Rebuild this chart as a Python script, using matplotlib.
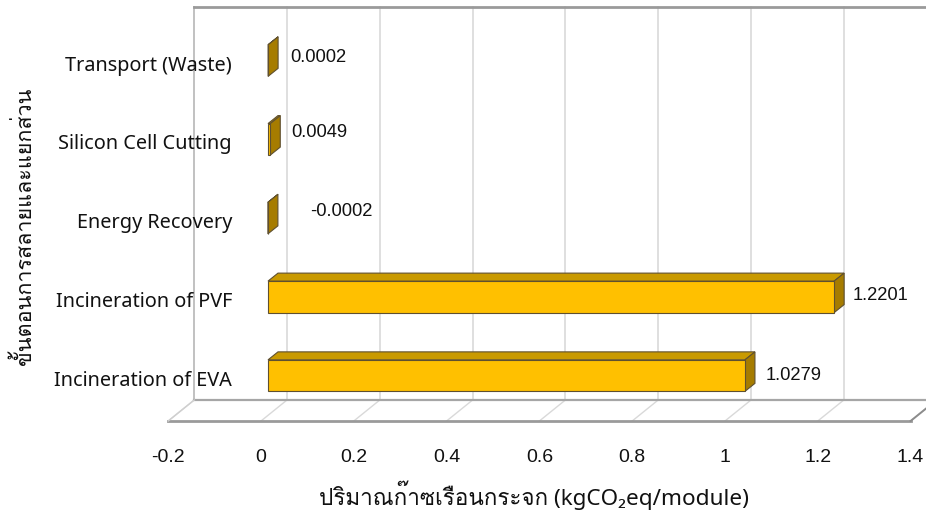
import matplotlib
matplotlib.use("Agg")
import matplotlib.pyplot as plt
from matplotlib import font_manager
from matplotlib.ft2font import FT2Font
from matplotlib.patches import Polygon
from matplotlib.lines import Line2D
from matplotlib.transforms import IdentityTransform

# data
categories = ["Incineration of EVA", "Incineration of PVF", "Energy Recovery",
              "Silicon Cell Cutting", "Transport (Waste)"]
values = [1.0279, 1.2201, -0.0002, 0.0049, 0.0002]
value_labels = ["1.0279", "1.2201", "-0.0002", "0.0049", "0.0002"]
xticks = [-0.2, 0, 0.2, 0.4, 0.6, 0.8, 1.0, 1.2, 1.4]
xtick_labels = ["-0.2", "0", "0.2", "0.4", "0.6", "0.8", "1", "1.2", "1.4"]
xlabel = "ปริมาณก๊าซเรือนกระจก (kgCO₂eq/module)"
ylabel = "ขั้นตอนการสลายและแยกส่วน"


def find_thai_font():
    for f in font_manager.fontManager.ttflist:
        try:
            if 0x0E01 in FT2Font(f.fname).get_charmap():
                return f.name
        except Exception:
            pass
    return None


thai = find_thai_font()
latin_fams = ["Noto Sans"] + ([thai] if thai else []) + ["DejaVu Sans"]
num_fams = ["Liberation Sans", "DejaVu Sans"]

fig = plt.figure(figsize=(9.26, 5.12), dpi=100)
# axes = plane of the bar fronts
ax = fig.add_axes([175.2 / 926, 97 / 512, 742.4 / 926, 393 / 512])
ax.set_xlim(-0.2, 1.4)
ax.set_ylim(-0.5, 4.49)
ax.axis("off")

FRONT = (-7, -6)   # floor front edge offset (px)
BACK = (19, 15)    # back wall offset (px)
DEPTH = (10, 8)    # bar depth (px)
ID = IdentityTransform()


def P(x, y, off=(0, 0)):
    px, py = ax.transData.transform((x, y))
    return (px + off[0], py + off[1])


def line(p0, p1, color, lw, z=1):
    ax.add_line(Line2D([p0[0], p1[0]], [p0[1], p1[1]], color=color, lw=lw,
                       transform=ID, clip_on=False, zorder=z))


ylo, yhi = ax.get_ylim()
grid_c = "#d9d9d9"
frame_c = "#a6a6a6"

# back wall gridlines and floor diagonals
for t in xticks:
    line(P(t, ylo, BACK), P(t, yhi, BACK), grid_c, 1.2)
    line(P(t, ylo, FRONT), P(t, ylo, BACK), grid_c, 1.0)
# wall edges
line(P(-0.2, ylo, BACK), P(-0.2, yhi, BACK), "#bfbfbf", 1.3, 2)
line(P(-0.2, yhi, BACK), P(1.6, yhi, BACK), "#9a9a9a", 2.0, 2)
line(P(-0.2, ylo, BACK), P(1.6, ylo, BACK), frame_c, 1.6, 2)
line(P(-0.2, ylo, FRONT), P(1.4, ylo, FRONT), "#9a9a9a", 2.0, 2)
line(P(-0.2, ylo, FRONT), P(-0.2, ylo, BACK), "#cfcfcf", 1.0, 2)
line(P(1.4, ylo, FRONT), P(1.4, ylo, BACK), "#8c8c8c", 1.4, 2)

# bars
front_c, top_c, side_c, edge_c = "#ffc000", "#c99a00", "#a67c00", "#5f5030"
half = 0.2
label_dx = [21, 18, 42, 21, 22]
label_dy = [0, 1, 7, 7, 3]
for i, v in enumerate(values):
    a, b = P(0, i - half), P(v, i - half)
    c, d = P(v, i + half), P(0, i + half)

    def sh(p):
        return (p[0] + DEPTH[0], p[1] + DEPTH[1])

    for pts, col in [([d, c, sh(c), sh(d)], top_c),
                     ([b, c, sh(c), sh(b)], side_c),
                     ([a, b, c, d], front_c)]:
        ax.add_patch(Polygon(pts, closed=True, facecolor=col, edgecolor=edge_c,
                             lw=0.8, transform=ID, clip_on=False, zorder=5))
    end = max(v, 0)
    ex, ey = P(end, i)
    ax.text(ex + label_dx[i], ey + label_dy[i], value_labels[i], transform=ID,
            ha="left", va="center", fontsize=13.2, family=num_fams, color="#111111")
    lx, ly = P(0, i)
    ax.text(lx - 36, ly - 5, categories[i], transform=ID, ha="right", va="center",
            fontsize=14.3, family=latin_fams, color="#111111")

# tick labels
for t, s in zip(xticks, xtick_labels):
    tx, ty = P(t, ylo, FRONT)
    ax.text(tx, ty - 36, s, transform=ID, ha="center", va="center",
            fontsize=14, family=num_fams, color="#111111")

fig.text(534 / 926, 17 / 512, xlabel, ha="center", va="center",
         fontsize=16.2, family=latin_fams, color="#111111")
fig.text(24 / 926, 286 / 512, ylabel, ha="center", va="center", rotation=90,
         fontsize=15.5, family=latin_fams, color="#111111")

fig.savefig("out.png", dpi=100)
